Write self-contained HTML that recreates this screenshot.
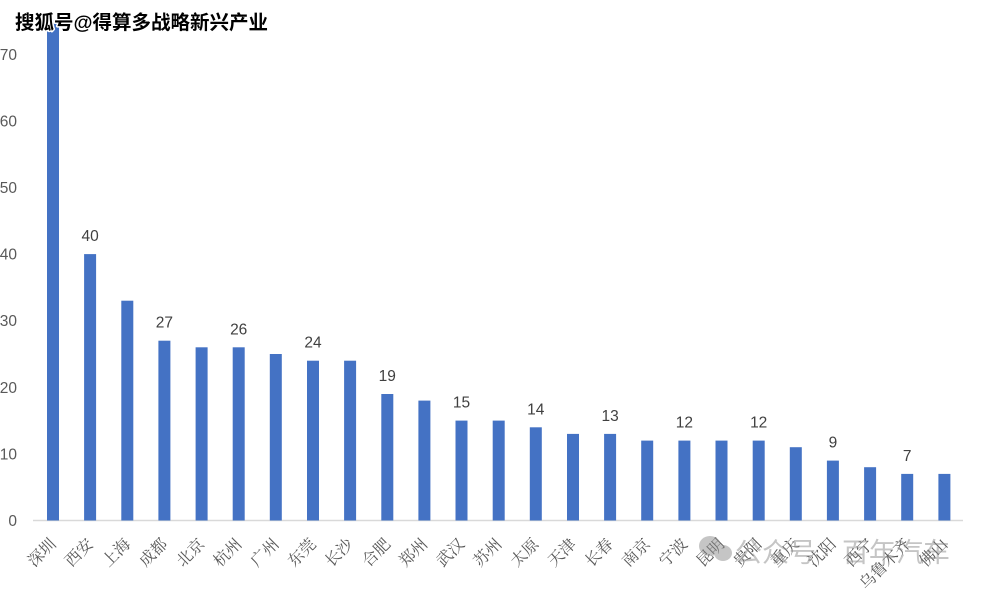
<!DOCTYPE html>
<html><head><meta charset="utf-8"><style>
html,body{margin:0;padding:0;background:#fff;}
svg{display:block;}
</style></head><body>
<svg width="981" height="591" viewBox="0 0 981 591" xmlns="http://www.w3.org/2000/svg" font-family="'Liberation Sans','Noto Sans CJK SC',sans-serif">
<rect width="981" height="591" fill="#fff"/>
<g fill="#595959" font-size="15.5" text-anchor="end">
<text x="17" y="526">0</text>
<text x="17" y="459.5">10</text>
<text x="17" y="393">20</text>
<text x="17" y="326">30</text>
<text x="17" y="259.5">40</text>
<text x="17" y="193">50</text>
<text x="17" y="126.5">60</text>
<text x="17" y="60">70</text>
</g>
<line x1="33" y1="520.5" x2="963" y2="520.5" stroke="#d9d9d9" stroke-width="1.5"/>
<g fill="#4472c4">
<rect x="47.0" y="20.0" width="12" height="500.5"/>
<rect x="84.1" y="254.1" width="12" height="266.4"/>
<rect x="121.3" y="300.7" width="12" height="219.8"/>
<rect x="158.4" y="340.7" width="12" height="179.8"/>
<rect x="195.6" y="347.3" width="12" height="173.2"/>
<rect x="232.7" y="347.3" width="12" height="173.2"/>
<rect x="269.8" y="354.0" width="12" height="166.5"/>
<rect x="307.0" y="360.7" width="12" height="159.8"/>
<rect x="344.1" y="360.7" width="12" height="159.8"/>
<rect x="381.3" y="394.0" width="12" height="126.5"/>
<rect x="418.4" y="400.6" width="12" height="119.9"/>
<rect x="455.5" y="420.6" width="12" height="99.9"/>
<rect x="492.7" y="420.6" width="12" height="99.9"/>
<rect x="529.8" y="427.3" width="12" height="93.2"/>
<rect x="567.0" y="433.9" width="12" height="86.6"/>
<rect x="604.1" y="433.9" width="12" height="86.6"/>
<rect x="641.2" y="440.6" width="12" height="79.9"/>
<rect x="678.4" y="440.6" width="12" height="79.9"/>
<rect x="715.5" y="440.6" width="12" height="79.9"/>
<rect x="752.7" y="440.6" width="12" height="79.9"/>
<rect x="789.8" y="447.2" width="12" height="73.3"/>
<rect x="826.9" y="460.6" width="12" height="59.9"/>
<rect x="864.1" y="467.2" width="12" height="53.3"/>
<rect x="901.2" y="473.9" width="12" height="46.6"/>
<rect x="938.4" y="473.9" width="12" height="46.6"/>
</g>
<g fill="#404040" font-size="15.5" text-anchor="middle">
<text x="90.1" y="241">40</text>
<text x="164.4" y="327.7">27</text>
<text x="238.7" y="334.3">26</text>
<text x="313.0" y="347.7">24</text>
<text x="387.3" y="381">19</text>
<text x="461.5" y="407.6">15</text>
<text x="535.8" y="414.3">14</text>
<text x="610.1" y="420.9">13</text>
<text x="684.4" y="427.6">12</text>
<text x="758.7" y="427.6">12</text>
<text x="832.9" y="447.6">9</text>
<text x="907.2" y="460.9">7</text>
</g>
<g fill="#595959" font-size="16" text-anchor="end" font-family="'Liberation Serif','Noto Serif CJK SC',serif">
<text transform="translate(57,545) rotate(-45)">深圳</text>
<text transform="translate(94.1,545) rotate(-45)">西安</text>
<text transform="translate(131.3,545) rotate(-45)">上海</text>
<text transform="translate(168.4,545) rotate(-45)">成都</text>
<text transform="translate(205.6,545) rotate(-45)">北京</text>
<text transform="translate(242.7,545) rotate(-45)">杭州</text>
<text transform="translate(279.8,545) rotate(-45)">广州</text>
<text transform="translate(317.0,545) rotate(-45)">东莞</text>
<text transform="translate(354.1,545) rotate(-45)">长沙</text>
<text transform="translate(391.3,545) rotate(-45)">合肥</text>
<text transform="translate(428.4,545) rotate(-45)">郑州</text>
<text transform="translate(465.5,545) rotate(-45)">武汉</text>
<text transform="translate(502.7,545) rotate(-45)">苏州</text>
<text transform="translate(539.8,545) rotate(-45)">太原</text>
<text transform="translate(577.0,545) rotate(-45)">天津</text>
<text transform="translate(614.1,545) rotate(-45)">长春</text>
<text transform="translate(651.2,545) rotate(-45)">南京</text>
<text transform="translate(688.4,545) rotate(-45)">宁波</text>
<text transform="translate(725.5,545) rotate(-45)">昆明</text>
<text transform="translate(762.7,545) rotate(-45)">贵阳</text>
<text transform="translate(799.8,545) rotate(-45)">重庆</text>
<text transform="translate(836.9,545) rotate(-45)">沈阳</text>
<text transform="translate(874.1,545) rotate(-45)">西宁</text>
<text transform="translate(911.2,545) rotate(-45)">乌鲁木齐</text>
<text transform="translate(948.4,545) rotate(-45)">佛山</text>
</g>
<g opacity="0.5" fill="#8c8c8c">
<ellipse cx="710" cy="546" rx="11" ry="10"/>
<ellipse cx="723" cy="553" rx="9" ry="8"/>
<text x="735" y="562" font-size="27">公众号</text>
<text x="822" y="562" font-size="27">·</text>
<text x="842" y="562" font-size="27">百年汽车</text>
</g>
<text x="15" y="29" font-size="19.5" font-weight="bold" fill="#000" stroke="#fff" stroke-width="3" paint-order="stroke" stroke-linejoin="round">搜狐号@得算多战略新兴产业</text>
</svg>
</body></html>
